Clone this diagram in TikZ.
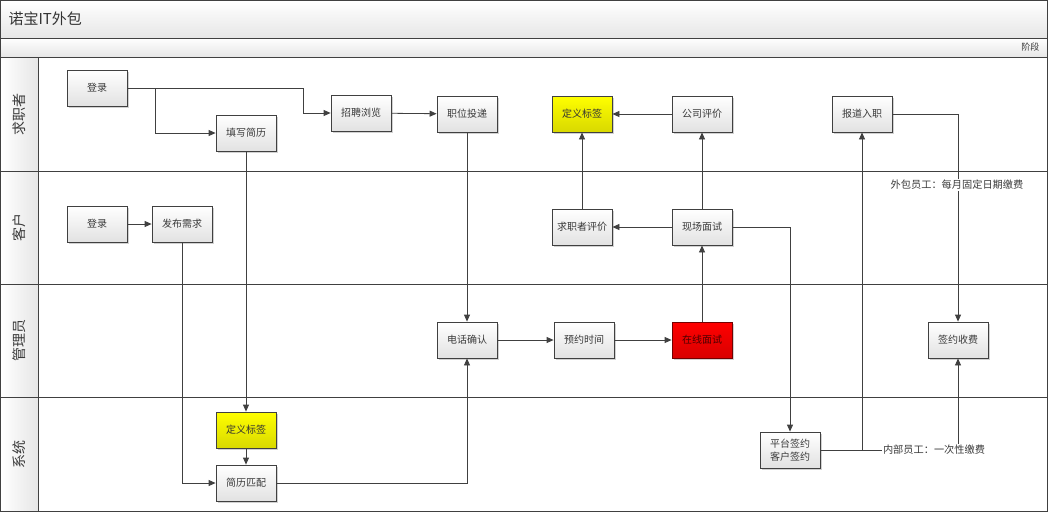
\documentclass[tikz,border=0pt]{standalone}
\usepackage{fontspec}
\setmainfont{Noto Sans CJK SC}
\usetikzlibrary{arrows.meta,shadows}
\definecolor{linec}{HTML}{404040}
\definecolor{txt}{HTML}{3A3A3A}
\definecolor{boxbot}{HTML}{E2E2E2}
\definecolor{barbot}{HTML}{E6E6E6}
\tikzset{
  box/.style={draw=linec, line width=0.8pt, minimum width=60pt, minimum height=36pt,
    inner sep=1pt, top color=white, bottom color=boxbot, text=txt,
    font=\fontsize{10}{12.5}\selectfont, align=center,
    drop shadow={shadow xshift=2pt, shadow yshift=-2pt, fill=black, opacity=0.18}},
  tagbox/.style={box, draw=linec, top color=yellow, bottom color=yellow!85!black, text=black!80},
  hotbox/.style={box, draw=red!45!black, top color=red, bottom color=red!85!black, text=red!30!black},
  ed/.style={draw=linec, line width=0.8pt, -{Triangle[length=7pt,width=6pt]}},
  wire/.style={draw=linec, line width=0.8pt},
  lanelabel/.style={rotate=90, text=txt, font=\fontsize{14}{16}\selectfont},
  edgelabel/.style={fill=white, inner sep=1pt, text=txt, font=\fontsize{10.2}{12}\selectfont}
}
\begin{document}
\begin{tikzpicture}[x=1pt,y=-1pt]
\useasboundingbox (0,0) rectangle (1048,512);
% header bars and label column
\shade[top color=white, bottom color=barbot] (0.5,0.5) rectangle (1047.5,38);
\shade[top color=white, bottom color=barbot] (0.5,38) rectangle (1047.5,57);
\shade[left color=white, right color=barbot] (0.5,57) rectangle (38,511);
\draw[wire] (0.5,0.5) rectangle (1047.5,511);
\foreach \yy in {38,57,171,284,397} \draw[wire] (0.5,\yy) -- (1047.5,\yy);
\draw[wire] (38,57) -- (38,511);
\node[anchor=west, text=black!80, font=\fontsize{15}{17}\selectfont] (title) at (5,19) {诺宝IT外包};
\node[anchor=east, text=txt, font=\fontsize{9}{10}\selectfont] (phase) at (1043,47) {阶段};
\node[lanelabel] (laneA) at (19,114) {求职者};
\node[lanelabel] (laneB) at (19,227) {客户};
\node[lanelabel] (laneC) at (19,340) {管理员};
\node[lanelabel] (laneD) at (19,454) {系统};

% job seeker lane
\node[box] (slogin) at (97,88) {登录};
\node[box] (resume) at (246,133) {填写简历};
\node[box] (browse) at (361,113) {招聘浏览};
\node[box] (apply) at (467,114) {职位投递};
\node[tagbox] (tagA) at (582,114) {定义标签};
\node[box] (rateco) at (702,114) {公司评价};
\node[box] (report) at (862,114) {报道入职};
% client lane
\node[box] (clogin) at (97,224) {登录};
\node[box] (publish) at (182,224) {发布需求};
\node[box] (rateseek) at (582,227) {求职者评价};
\node[box] (onsite) at (702,227) {现场面试};
% admin lane
\node[box] (phone) at (467,340) {电话确认};
\node[box] (book) at (584,340) {预约时间};
\node[hotbox] (online) at (702,340) {在线面试};
\node[box] (fee) at (958,340) {签约收费};
% system lane
\node[tagbox] (tagB) at (246,430) {定义标签};
\node[box] (match) at (246,483) {简历匹配};
\node[box] (sign) at (790,450) {平台签约\\客户签约};

% connectors
\coordinate (split) at (155,88);
\draw[ed] (slogin.east) -- ++(176,0) |- (browse.west);
\draw[ed] (split) |- (resume.west);
\draw[ed] (browse) -- (apply);
\draw[ed] (apply) -- (phone);
\draw[ed] (rateco) -- (tagA);
\draw[ed] (rateseek) -- (tagA);
\draw[ed] (onsite) -- (rateco);
\draw[ed] (onsite) -- (rateseek);
\draw[ed] (online) -- (onsite);
\draw[ed] (phone) -- (book);
\draw[ed] (book) -- (online);
\draw[ed] (clogin) -- (publish);
\draw[ed] (resume) -- (tagB);
\draw[ed] (tagB) -- (match);
\draw[ed] (publish.south) |- (match.west);
\draw[ed] (match.east) -| (phone.south);
\draw[ed] (onsite.east) -| (sign.north);
\draw[ed] (sign.east) -| (report.south);
\draw[ed] (sign.east) -| (fee.south);
\draw[ed] (report.east) -| (fee.north);
\node[edgelabel] (feeA) at (934,450) {内部员工：一次性缴费};
\node[edgelabel] (feeB) at (957,185) {外包员工：每月固定日期缴费};
\end{tikzpicture}
\end{document}
